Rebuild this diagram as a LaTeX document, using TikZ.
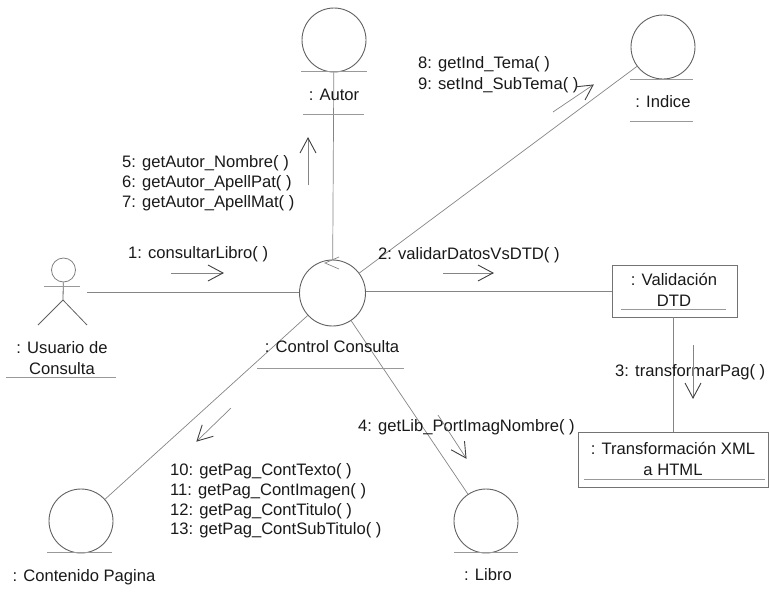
\documentclass[tikz,border=0pt]{standalone}
\usepackage{fontspec}
\setmainfont{Liberation Sans}
\usetikzlibrary{calc}
\begin{document}
\begin{tikzpicture}[x=1pt,y=-1pt,
  ink/.style={draw=black!62,line width=0.8pt},
  link/.style={draw=black!48,line width=0.7pt},
  rule/.style={draw=black!40,line width=0.8pt},
  obj/.style={circle,draw=black!62,line width=0.9pt,minimum size=64pt,inner sep=0pt},
  box/.style={rectangle,draw=black!55,line width=0.7pt,inner sep=0pt},
  lab/.style={font=\fontsize{16.6}{20.5}\selectfont,text=black!90,align=center,inner sep=0pt},
  msg/.style={font=\fontsize{16.6}{19.8}\selectfont,text=black!90,align=left,inner sep=0pt,anchor=west},
  tipline/.style={draw=black!75,line width=0.9pt}]
\useasboundingbox (0,0) rectangle (769,592);
\node[obj] (autor) at (334,40) {};
\node[obj] (indice) at (663,47) {};
\node[obj,minimum size=66pt] (control) at (332.5,293) {};
\node[obj] (contenido) at (81,521) {};
\node[obj] (libro) at (486,521) {};
\node[circle,draw=black!50,line width=0.8pt,minimum size=24pt,inner sep=0pt] (head) at (63.5,270) {};
\coordinate (hip) at (63,300);
\coordinate (armL) at (44,286);
\coordinate (armR) at (80,286);
\coordinate (legL) at (38,325);
\coordinate (legR) at (87,325);
\coordinate (actorEnd) at (87,292);
\draw[ink] (head) -- (hip) -- (legL) (hip) -- (legR);
\draw[rule] (armL) -- (armR);
\node[box,minimum width=125pt,minimum height=52pt] (valid) at (674.5,291) {};
\node[box,minimum width=190pt,minimum height=55pt] (transf) at (673.5,459.5) {};
\draw[link] (actorEnd) -- (control.west |- actorEnd);
\draw[link] (control.east |- valid.west) -- (valid.west);
\draw[link] (valid.south -| transf.north) -- (transf.north);
\draw[link] (autor) -- (control);
\draw[link] (indice) -- (control);
\draw[link] (control) -- (contenido);
\draw[link] (control) -- (libro);
\coordinate (c1) at (339,257); \coordinate (c2) at (325,263); \coordinate (c3) at (339,269);
\draw[link] (c1) -- (c2) -- (c3);
\node[lab] (lautor) at (334,95) {: Autor};
\node[lab] (lindice) at (663,102) {: Indice};
\node[lab] (lcontrol) at (332,347) {: Control Consulta};
\node[lab] (lusuario) at (62,358) {: Usuario de\\Consulta};
\node[lab] (lvalid) at (674,290) {: Validación\\DTD};
\node[lab] (ltransf) at (673,459) {: Transformación XML\\a HTML};
\node[lab] (lcont) at (84,577) {: Contenido Pagina};
\node[lab] (llibro) at (488,575) {: Libro};
\draw[rule] (301,71) -- (367,71) (303,114) -- (364,114);
\draw[rule] (630,79) -- (693,79) (630,121) -- (693,121);
\draw[rule] (257,368) -- (404,368);
\draw[rule] (6,377) -- (116,377);
\draw[rule] (621,309) -- (726,309);
\draw[rule] (584,479) -- (765,479);
\draw[rule] (47,552) -- (112,552);
\draw[rule] (454,552) -- (518,552);
\node[msg] (m1) at (128,254) {1: consultarLibro( )};
\node[msg] (m2) at (378,255) {2: validarDatosVsDTD( )};
\node[msg] (m3) at (615,372) {3: transformarPag( )};
\node[msg] (m4) at (358,427) {4: getLib\_PortImagNombre( )};
\node[msg] (m5) at (122,183) {5: getAutor\_Nombre( )\\6: getAutor\_ApellPat( )\\7: getAutor\_ApellMat( )};
\node[msg,font=\fontsize{16.6}{21}\selectfont] (m8) at (418,74.5) {8: getInd\_Tema( )\\9: setInd\_SubTema( )};
\node[msg] (m10) at (170,501) {10: getPag\_ContTexto( )\\11: getPag\_ContImagen( )\\12: getPag\_ContTitulo( )\\13: getPag\_ContSubTitulo( )};
\coordinate (a1) at (171,273); \coordinate (b1) at (223,273);
\coordinate (a2) at (443,273); \coordinate (b2) at (493,273);
\coordinate (a3) at (693,345); \coordinate (b3) at (693,398);
\coordinate (a4) at (438,415); \coordinate (b4) at (466,458);
\coordinate (a5) at (308,185); \coordinate (b5) at (308,138);
\coordinate (a8) at (553,112); \coordinate (b8) at (593,85);
\coordinate (a10) at (231,408); \coordinate (b10) at (197,441);
\foreach \i in {1,2,3,4,5,8,10} {
  \draw[link] (a\i) -- (b\i);
  \draw[tipline] ($(b\i)!17pt!28:(a\i)$) -- (b\i) -- ($(b\i)!17pt!-28:(a\i)$);
}
\end{tikzpicture}
\end{document}
